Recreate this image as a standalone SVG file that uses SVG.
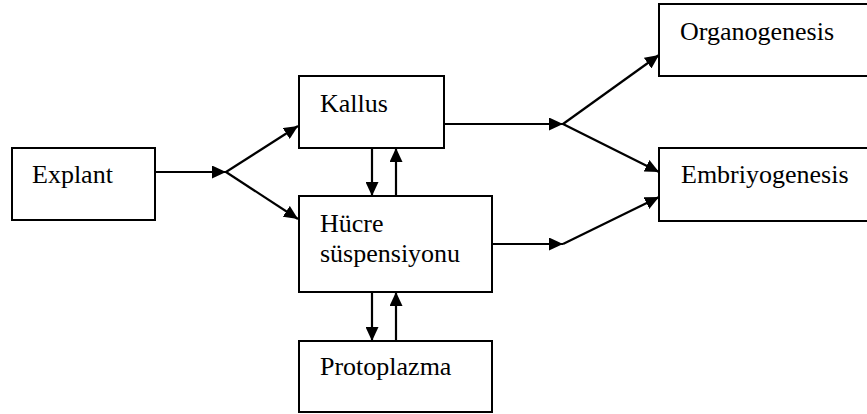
<svg xmlns="http://www.w3.org/2000/svg" width="867" height="414" viewBox="0 0 867 414">
  <style>
    .box { fill: #ffffff; stroke: #000000; stroke-width: 2; }
    .lbl { font-family: 'Liberation Serif', 'DejaVu Serif', serif; font-size: 26px; fill: #000000; }
    .conn { stroke: #000000; stroke-width: 2.2; fill: none; }
  </style>
  <defs>
    <marker id="arrow" markerUnits="userSpaceOnUse" markerWidth="15" markerHeight="13" refX="14" refY="6.5" orient="auto">
      <path d="M0,0 L14,6.5 L0,13 z" fill="#000000"/>
    </marker>
  </defs>
  <rect width="867" height="414" fill="#ffffff"/>

  <g id="node-explant">
    <rect class="box" x="12" y="148" width="143" height="72"/>
    <text class="lbl" font-family="Liberation Serif, serif" x="32" y="183">Explant</text>
  </g>
  <g id="node-kallus">
    <rect class="box" x="299" y="76" width="145" height="72"/>
    <text class="lbl" font-family="Liberation Serif, serif" x="320" y="112">Kallus</text>
  </g>
  <g id="node-hucre">
    <rect class="box" x="299" y="196" width="193" height="96"/>
    <text class="lbl" font-family="Liberation Serif, serif" x="320" y="232">Hücre</text>
    <text class="lbl" font-family="Liberation Serif, serif" x="320" y="262">süspensiyonu</text>
  </g>
  <g id="node-protoplazma">
    <rect class="box" x="299" y="341" width="193" height="71"/>
    <text class="lbl" font-family="Liberation Serif, serif" x="320" y="375">Protoplazma</text>
  </g>
  <g id="node-organogenesis">
    <rect class="box" x="659" y="4" width="240" height="72"/>
    <text class="lbl" font-family="Liberation Serif, serif" x="680" y="40">Organogenesis</text>
  </g>
  <g id="node-embriyogenesis">
    <rect class="box" x="659" y="148" width="240" height="73"/>
    <text class="lbl" font-family="Liberation Serif, serif" x="681" y="183">Embriyogenesis</text>
  </g>

  <g id="connectors">
    <line class="conn" x1="155" y1="172" x2="226" y2="172" marker-end="url(#arrow)"/>
    <line class="conn" x1="226" y1="172" x2="298" y2="126" marker-end="url(#arrow)"/>
    <line class="conn" x1="226" y1="172" x2="298" y2="219" marker-end="url(#arrow)"/>
    <line class="conn" x1="372" y1="148" x2="372" y2="196" marker-end="url(#arrow)"/>
    <line class="conn" x1="396" y1="196" x2="396" y2="148" marker-end="url(#arrow)"/>
    <line class="conn" x1="372" y1="292" x2="372" y2="341" marker-end="url(#arrow)"/>
    <line class="conn" x1="396" y1="341" x2="396" y2="292" marker-end="url(#arrow)"/>
    <line class="conn" x1="444" y1="124" x2="563" y2="124" marker-end="url(#arrow)"/>
    <line class="conn" x1="563" y1="124" x2="659" y2="55" marker-end="url(#arrow)"/>
    <line class="conn" x1="563" y1="124" x2="659" y2="172" marker-end="url(#arrow)"/>
    <line class="conn" x1="492" y1="244" x2="563" y2="244" marker-end="url(#arrow)"/>
    <line class="conn" x1="563" y1="244" x2="659" y2="197" marker-end="url(#arrow)"/>
  </g>
</svg>
